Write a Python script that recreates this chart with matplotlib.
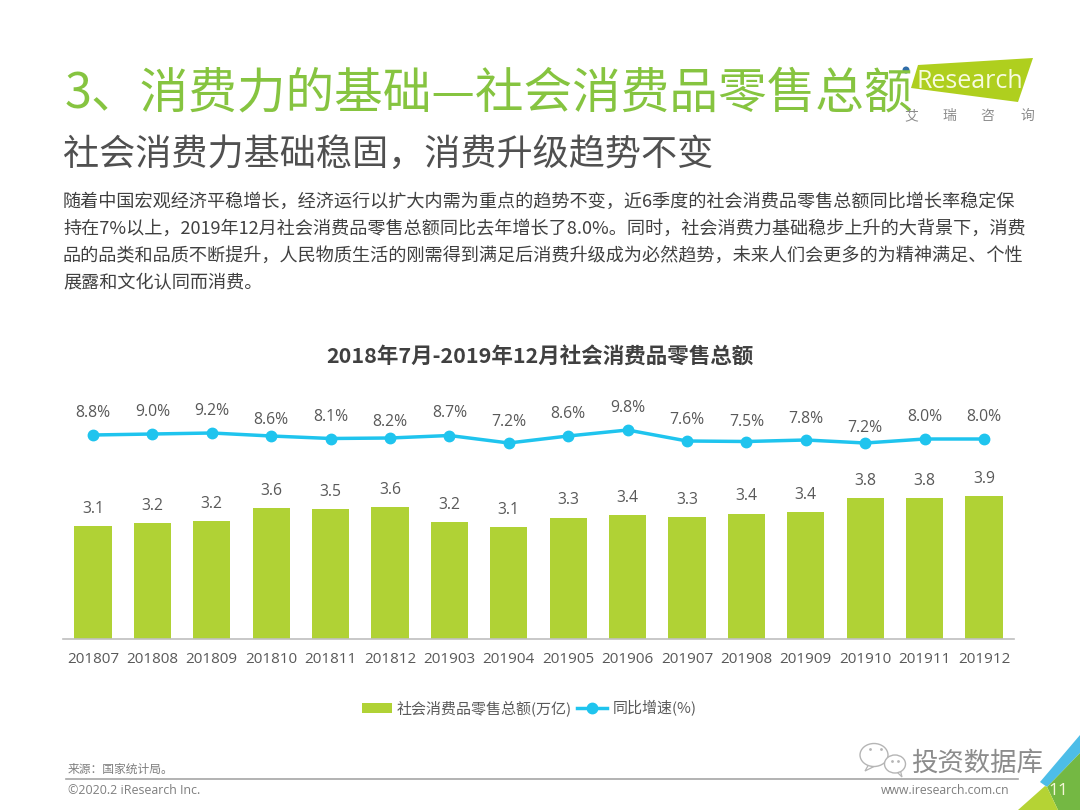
import matplotlib
matplotlib.use("Agg")
import matplotlib.pyplot as plt
from matplotlib.patches import Polygon, Ellipse

CJK = ['Noto Sans CJK SC', 'DejaVu Sans']
LAT = ['Open Sans', 'Noto Sans CJK SC', 'DejaVu Sans']
plt.rcParams['font.family'] = CJK

months = ['201807', '201808', '201809', '201810', '201811', '201812', '201903', '201904',
          '201905', '201906', '201907', '201908', '201909', '201910', '201911', '201912']
retail_sales = [3.09, 3.17, 3.22, 3.58, 3.54, 3.61, 3.20, 3.06, 3.31, 3.39, 3.33, 3.42, 3.47, 3.85, 3.85, 3.91]
sales_labels = ['3.1', '3.2', '3.2', '3.6', '3.5', '3.6', '3.2', '3.1', '3.3', '3.4', '3.3', '3.4', '3.4', '3.8', '3.8', '3.9']
growth = [8.8, 9.0, 9.2, 8.6, 8.1, 8.2, 8.7, 7.2, 8.6, 9.8, 7.6, 7.5, 7.8, 7.2, 8.0, 8.0]
growth_label_offsets = [23, 23, 23, 17, 23, 17, 24, 22, 23, 23, 22, 21, 22, 16, 23, 23]
sales_name = '社会消费品零售总额(万亿)'
growth_name = '同比增速(%)'

title = '3、消费力的基础—社会消费品零售总额'
subtitle = '社会消费力基础稳固，消费升级趋势不变'
body_lines = [
    '随着中国宏观经济平稳增长，经济运行以扩大内需为重点的趋势不变，近6季度的社会消费品零售总额同比增长率稳定保',
    '持在7%以上，2019年12月社会消费品零售总额同比去年增长了8.0%。同时，社会消费力基础稳步上升的大背景下，消费',
    '品的品类和品质不断提升，人民物质生活的刚需得到满足后消费升级成为必然趋势，未来人们会更多的为精神满足、个性',
    '展露和文化认同而消费。',
]
chart_title = '2018年7月-2019年12月社会消费品零售总额'

W, H = 1080, 810
GREEN = '#B0D235'
BLUE = '#1FC4EE'
GREY = '#595959'

fig = plt.figure(figsize=(W / 100, H / 100), dpi=100, facecolor='white')

pg = fig.add_axes([0, 0, 1, 1])
pg.set_xlim(0, W)
pg.set_ylim(H, 0)
pg.axis('off')

pg.text(65, 94, title, fontsize=35, color='#86C440', va='center', ha='left', family=CJK, weight='light')
pg.text(63, 154.5, subtitle, fontsize=26, color='#505050', va='center', ha='left', family=CJK)
for y, line in zip([202, 229, 256, 283], body_lines):
    pg.text(63, y, line, fontsize=13.05, color='#404040', va='center', ha='left', family=CJK)
pg.text(540, 356, chart_title, fontsize=15.5, color='#404040', va='center', ha='center',
        weight='bold', family=CJK)

# logo
pg.add_patch(Ellipse((906, 70), 7, 7, facecolor='#2F6DA8', edgecolor='none', zorder=0.5))
pg.add_patch(Polygon([[918, 65], [1033, 58], [1018, 102], [911, 88]], closed=True,
                     facecolor='#AFCF1E', edgecolor='none', zorder=3))
pg.text(970, 82, 'Research', fontsize=18, color='#F7FBE0', va='center', ha='center', family=LAT, zorder=4)
for x, ch in zip([911, 949, 987, 1027], '艾瑞咨询'):
    pg.text(x, 116, ch, fontsize=10, color='#8C8C8C', va='center', ha='center', family=CJK, zorder=4)

# footer
pg.text(68, 769, '来源：国家统计局。', fontsize=8.5, color='#7F7F7F', va='center', ha='left', family=CJK)
pg.plot([66, 1018], [778.5, 778.5], color='#A6A6A6', lw=1.2)
pg.text(68, 791, '©2020.2 iResearch Inc.', fontsize=8.9, color='#7F7F7F', va='center', ha='left', family=LAT)
pg.text(1009, 791, 'www.iresearch.com.cn', fontsize=8.8, color='#7F7F7F', va='center', ha='right', family=LAT)

# corner shapes
pg.add_patch(Polygon([[1040, 782], [1080, 735], [1080, 753], [1047, 787]], closed=True,
                     facecolor='#4DBDE8', edgecolor='none', zorder=2))
pg.add_patch(Polygon([[1047, 787], [1080, 753], [1080, 810], [1058, 810]], closed=True,
                     facecolor='#74B843', edgecolor='none', zorder=2))
pg.add_patch(Polygon([[1018, 810], [1045, 786], [1047, 787], [1058, 810]], closed=True,
                     facecolor='#B5D334', edgecolor='none', zorder=2))
pg.text(1058, 791, '11', fontsize=12.5, color='#F5F7D8', va='center', ha='center', family=LAT, zorder=5)

# watermark icon and text
ICON = '#B5B5B5'
pg.add_patch(Polygon([[869, 764], [865, 771], [875, 766]], closed=True, facecolor='white', edgecolor=ICON, lw=0.9, zorder=3))
pg.add_patch(Ellipse((874, 755), 28, 23, facecolor='white', edgecolor=ICON, lw=1, zorder=4))
pg.add_patch(Polygon([[896, 771], [902, 777], [900, 769]], closed=True, facecolor='white', edgecolor=ICON, lw=0.9, zorder=4))
pg.add_patch(Ellipse((895, 764), 21, 18, facecolor='white', edgecolor=ICON, lw=1, zorder=5))
pg.scatter([870, 881, 892, 898], [749, 749, 761, 761], s=4, color=ICON, linewidths=0, zorder=6)
pg.text(911, 763, '投资数据库', fontsize=19, color='#8C8C8C', va='center', ha='left', family=CJK, zorder=5)

# chart
L, R, T, B = 63.3, 1013.7, 400.0, 639.0
ax = fig.add_axes([L / W, 1 - B / H, (R - L) / W, (B - T) / H], facecolor='none')
x = list(range(len(months)))
bars = ax.bar(x, retail_sales, width=0.625, color=GREEN, label=sales_name, zorder=2)
ax.set_xlim(-0.5, 15.5)
ax.set_ylim(0, 6.53)
ax.set_yticks([])
ax.set_xticks(x)
ax.set_xticklabels(months, family=LAT, fontsize=11, color=GREY)
ax.tick_params(axis='x', length=0, pad=9.5)
for s in ['top', 'left', 'right']:
    ax.spines[s].set_visible(False)
ax.spines['bottom'].set_color('#BFBFBF')
ax.spines['bottom'].set_linewidth(1.2)
for xi, v, lab in zip(x, retail_sales, sales_labels):
    ax.annotate(lab, (xi, v), xytext=(0, 12.5), textcoords='offset points', ha='center',
                va='center', fontsize=11.3, color=GREY, family=LAT)

ax2 = ax.twinx()
ax2.set_facecolor('none')
ax2.set_ylim(-32, 15.8)
ax2.set_yticks([])
for s in ax2.spines.values():
    s.set_visible(False)
line, = ax2.plot(x, growth, color=BLUE, lw=2.5, marker='o', ms=7.5, label=growth_name, zorder=3)
for xi, v, off in zip(x, growth, growth_label_offsets):
    ax2.annotate(f'{v:.1f}%', (xi, v), xytext=(0, off * 0.72 - 1), textcoords='offset points', ha='center',
                 va='center', fontsize=11.3, color=GREY, family=LAT)

fig.legend([bars, line], [sales_name, growth_name], loc='center', ncol=2,
           bbox_to_anchor=(529 / W, 1 - 708 / H), frameon=False,
           handlelength=2.0, handletextpad=0.35, columnspacing=0.35, labelcolor=GREY,
           prop={'family': CJK, 'size': 10.8})

fig.savefig('out.png', dpi=100)
